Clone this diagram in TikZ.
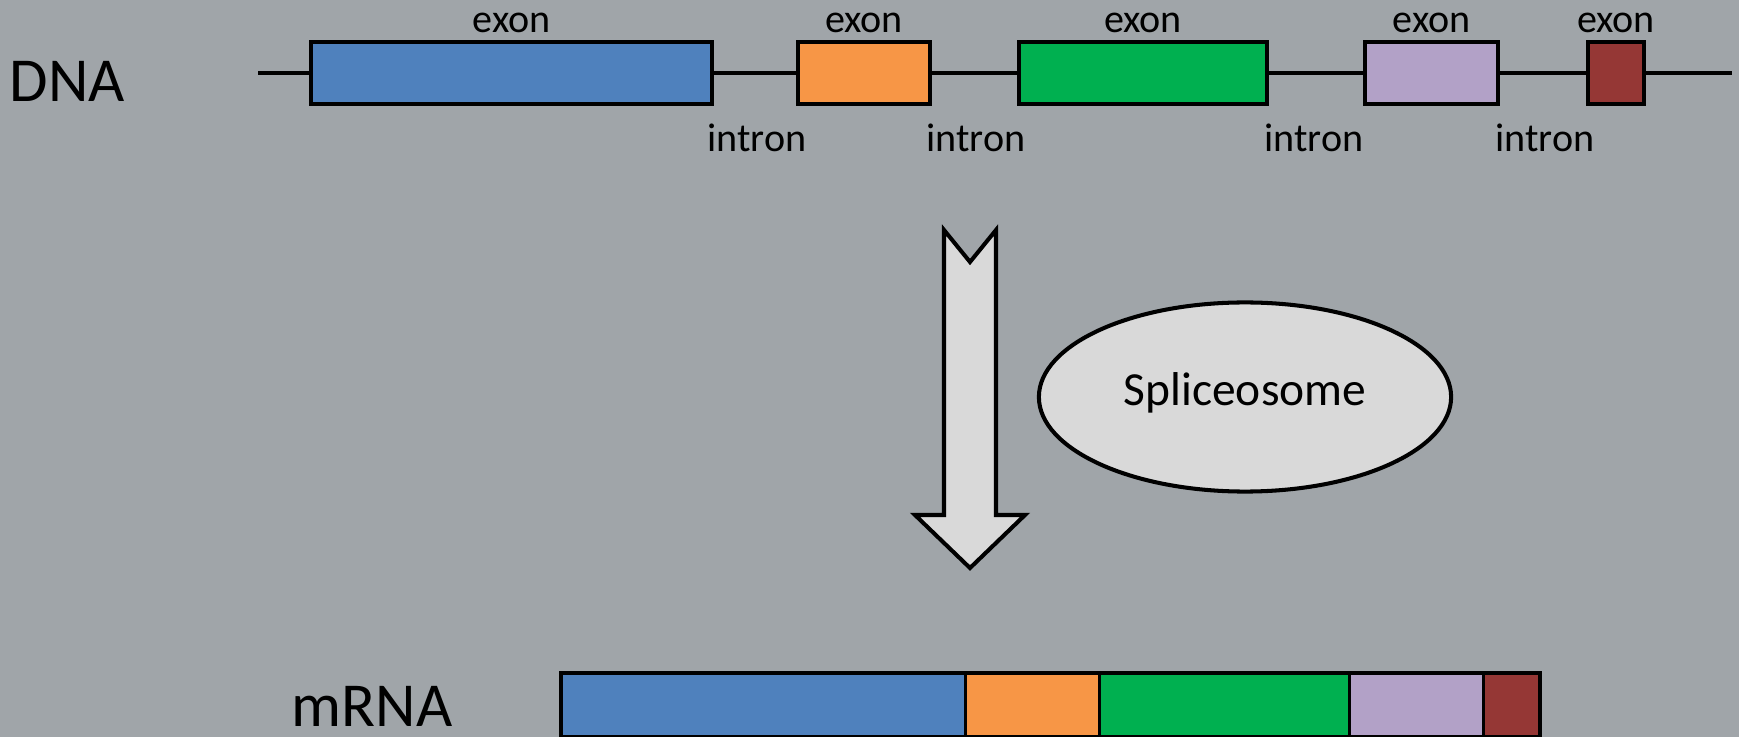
\documentclass[tikz,border=0pt]{standalone}
\usepackage{fontspec}
\setmainfont{Carlito}
\usetikzlibrary{shapes.geometric}

\definecolor{bggray}{HTML}{A0A5A9}
\definecolor{exblue}{HTML}{4F81BD}
\definecolor{exorange}{HTML}{F79646}
\definecolor{exgreen}{HTML}{00B050}
\definecolor{exlilac}{HTML}{B2A1C7}
\definecolor{exred}{HTML}{953735}
\definecolor{lightfill}{HTML}{D9D9D9}

\tikzset{
  exonbox/.style={draw=black, line width=1.15pt, anchor=north west,
    inner sep=0pt, outer sep=0pt, minimum height=0.62cm},
  rnabox/.style={draw=black, line width=0.9pt, anchor=north west,
    inner sep=0pt, outer sep=0pt, minimum height=0.64cm},
  strand/.style={line width=1.15pt, black},
  smalllbl/.style={font=\fontsize{11.4}{13}\selectfont, anchor=base, inner sep=0pt},
  biglbl/.style={font=\fontsize{17.8}{20}\selectfont, anchor=base west, inner sep=0pt},
}

\begin{document}
\begin{tikzpicture}[x=0.01cm, y=-0.01cm]
  % canvas
  \useasboundingbox (0,0) rectangle (1739,737);
  \clip (0,0) rectangle (1739,737);
  \fill[bggray] (0,0) rectangle (1739,737);

  % ---- gene on the DNA ----
  \node[exonbox, fill=exblue,   minimum width=4.01cm] (e1) at (311,42) {};
  \node[exonbox, fill=exorange, minimum width=1.32cm] (e2) at (798,42) {};
  \node[exonbox, fill=exgreen,  minimum width=2.48cm] (e3) at (1019,42) {};
  \node[exonbox, fill=exlilac,  minimum width=1.33cm] (e4) at (1365,42) {};
  \node[exonbox, fill=exred,    minimum width=0.56cm] (e5) at (1588,42) {};
  \coordinate (dnastart) at (258,0);
  \coordinate (dnaend) at (1732,0);
  \coordinate (exonrow) at (0,33);

  % intron strands between the exons
  \draw[strand] (dnastart |- e1.west) -- (e1.west);
  \draw[strand] (e1.east) -- (e2.west);
  \draw[strand] (e2.east) -- (e3.west);
  \draw[strand] (e3.east) -- (e4.west);
  \draw[strand] (e4.east) -- (e5.west);
  \draw[strand] (e5.east) -- (dnaend |- e5.east);

  % exon labels
  \foreach \e in {e1,e2,e3,e4,e5}
    \node[smalllbl] (\e lbl) at (\e.north |- exonrow) {exon};

  % intron labels
  \node[smalllbl] (i1) at (757,152) {intron};
  \node[smalllbl] (i2) at (976,152) {intron};
  \node[smalllbl] (i3) at (1314,152) {intron};
  \node[smalllbl] (i4) at (1545,152) {intron};

  \node[biglbl] (dna) at (9,102) {DNA};

  % ---- splicing step ----
  \draw[line width=1.15pt, fill=lightfill, line join=miter]
    (944,230) -- (970,262) -- (996,230) -- (996,515) -- (1025,515)
    -- (970,568) -- (915,515) -- (944,515) -- cycle;

  \node[ellipse, draw=black, line width=1.15pt, fill=lightfill,
        minimum width=4.12cm, minimum height=1.89cm, inner sep=0pt]
        (splice) at (1245,397) {};
  \node[font=\fontsize{13.5}{16}\selectfont, anchor=base, inner sep=0pt]
        (splicelbl) at (1245,406) {Spliceosome};

  % ---- mature mRNA ----
  \node[rnabox, fill=exblue,   minimum width=4.04cm] (m1) at (561,673) {};
  \node[rnabox, fill=exorange, minimum width=1.34cm] (m2) at (m1.north east) {};
  \node[rnabox, fill=exgreen,  minimum width=2.50cm] (m3) at (m2.north east) {};
  \node[rnabox, fill=exlilac,  minimum width=1.34cm] (m4) at (m3.north east) {};
  \node[rnabox, fill=exred,    minimum width=0.56cm] (m5) at (m4.north east) {};
  \draw[line width=1.15pt] (m1.south west) rectangle (m5.north east);

  \node[biglbl] (mrna) at (291,726) {mRNA};
\end{tikzpicture}
\end{document}
